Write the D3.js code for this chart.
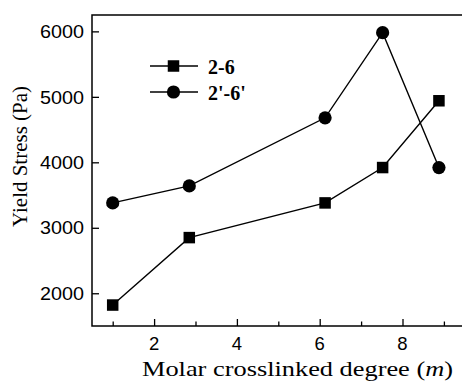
<!DOCTYPE html>
<html><head><meta charset="utf-8">
<script src="https://cdn.jsdelivr.net/npm/d3@7"></script>
<style>body{margin:0;background:#fff}svg{display:block}</style>
</head><body>
<svg id="c" width="462" height="381"></svg>
<script>
const xVals = [1, 2.85, 6.13, 7.52, 8.88];
const series26 = [1820, 2850, 3380, 3920, 4940];
const series26p = [3380, 3640, 4680, 5980, 3920];
const seriesNames = ["2-6", "2'-6'"];
const yTicks = [2000, 3000, 4000, 5000, 6000];
const xMajor = [2, 4, 6, 8];
const xMinor = [1, 3, 5, 7, 9];

const svg = d3.select("#c");
const L = 92, T = 15, B = 326, R = 464.6;
const x = d3.scaleLinear().domain([0.5, 9.5]).range([L, R]);
const y = d3.scaleLinear().domain([1500, 6250]).range([B, T]);
const sans = "Liberation Sans, Arial, sans-serif";
const serif = "Liberation Serif, Times New Roman, serif";

// frame
svg.append("rect").attr("x", L).attr("y", T).attr("width", R - L).attr("height", B - T)
  .attr("fill", "none").attr("stroke", "#000").attr("stroke-width", 1.5);

// y axis ticks (inward)
const yAx = svg.append("g").attr("transform", `translate(${L},0)`)
  .call(d3.axisRight(y).tickValues(yTicks).tickSize(7).tickFormat(""));
yAx.select(".domain").remove();
yAx.selectAll("line").attr("stroke-width", 1.3);
svg.append("g").selectAll("text").data(yTicks).join("text")
  .attr("x", L - 8).attr("y", d => y(d)).attr("dy", "0.36em")
  .attr("text-anchor", "end").attr("font-family", sans)
  .attr("font-size", 18.5).attr("textLength", 44).attr("lengthAdjust", "spacingAndGlyphs").text(d => d);

// x axis ticks (inward)
const xAx = svg.append("g").attr("transform", `translate(0,${B})`)
  .call(d3.axisTop(x).tickValues(xMajor).tickSize(7).tickFormat(""));
xAx.select(".domain").remove();
xAx.selectAll("line").attr("stroke-width", 1.3);
const xAx2 = svg.append("g").attr("transform", `translate(0,${B})`)
  .call(d3.axisTop(x).tickValues(xMinor).tickSize(4.5).tickFormat(""));
xAx2.select(".domain").remove();
xAx2.selectAll("line").attr("stroke-width", 1.3);
svg.append("g").selectAll("text").data(xMajor).join("text")
  .attr("x", d => x(d)).attr("y", 350)
  .attr("text-anchor", "middle").attr("font-family", sans)
  .attr("font-size", 18.5).text(d => d);

// axis titles
const xt = svg.append("text").attr("x", 142).attr("y", 376)
  .attr("font-family", serif).attr("font-size", 21.5)
  .attr("textLength", 311).attr("lengthAdjust", "spacingAndGlyphs");
xt.append("tspan").text("Molar crosslinked degree (");
xt.append("tspan").attr("font-style", "italic").text("m");
xt.append("tspan").text(")");
svg.append("text").attr("transform", "translate(27,227) rotate(-90)")
  .attr("font-family", serif).attr("font-size", 20)
  .attr("textLength", 141).attr("lengthAdjust", "spacingAndGlyphs")
  .text("Yield Stress (Pa)");

const line = d3.line().x(d => x(d[0])).y(d => y(d[1]));
const d1 = xVals.map((v, i) => [v, series26[i]]);
const d2 = xVals.map((v, i) => [v, series26p[i]]);
[d1, d2].forEach(d => svg.append("path").datum(d).attr("d", line)
  .attr("fill", "none").attr("stroke", "#000").attr("stroke-width", 1.4));

const S = 11.5;
svg.append("g").selectAll("rect").data(d1).join("rect")
  .attr("x", d => x(d[0]) - S / 2).attr("y", d => y(d[1]) - S / 2)
  .attr("width", S).attr("height", S).attr("fill", "#000");
svg.append("g").selectAll("circle").data(d2).join("circle")
  .attr("cx", d => x(d[0])).attr("cy", d => y(d[1])).attr("r", 6.6).attr("fill", "#000");

// legend
const lg = svg.append("g");
[66, 92].forEach((ly, i) => {
  lg.append("line").attr("x1", 150).attr("x2", 198).attr("y1", ly).attr("y2", ly)
    .attr("stroke", "#000").attr("stroke-width", 1.4);
  if (i === 0) lg.append("rect").attr("x", 173 - S / 2 + 0.5).attr("y", ly - S / 2).attr("width", S).attr("height", S).attr("fill", "#000");
  else lg.append("circle").attr("cx", 173.5).attr("cy", ly).attr("r", 6.6).attr("fill", "#000");
  lg.append("text").attr("x", 208).attr("y", ly + 8).attr("font-family", serif)
    .attr("font-weight", "bold").attr("font-size", 20).text(seriesNames[i]);
});
</script>
</body></html>
